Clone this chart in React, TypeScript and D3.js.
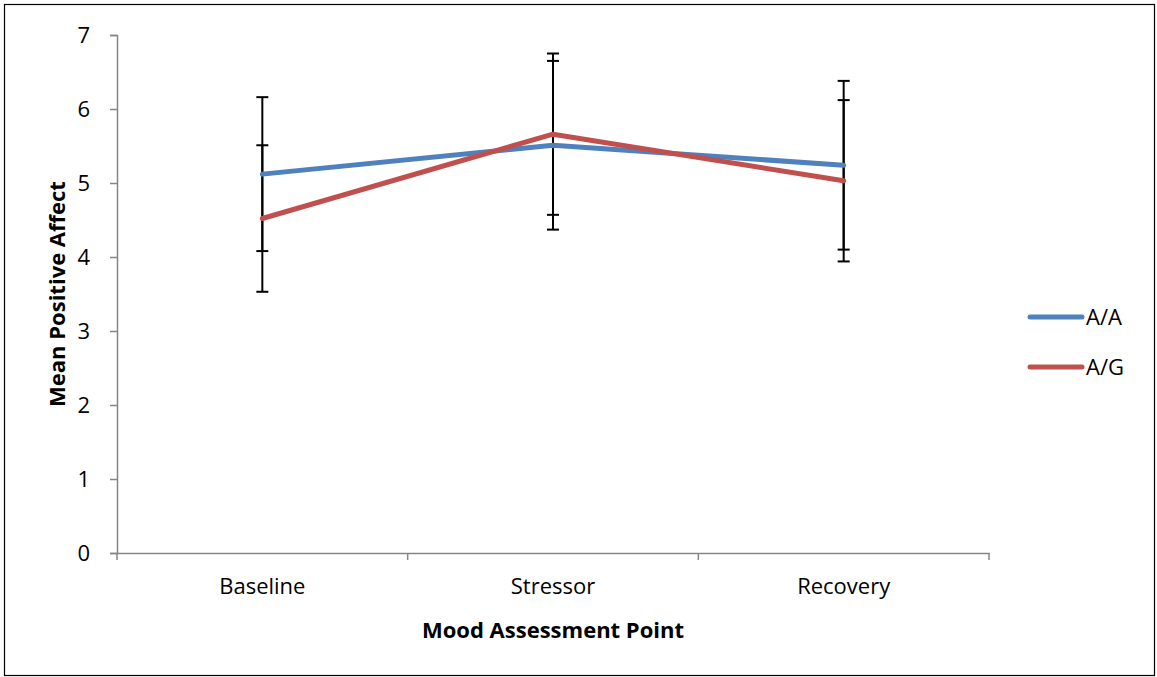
import React, { useEffect, useRef } from 'react';
import * as d3 from 'd3';

const categories = ['Baseline', 'Stressor', 'Recovery'];
const seriesNames = ['A/A', 'A/G'];
const aaMeans = [5.12, 5.51, 5.24];
const aaErrors = [1.04, 1.14, 1.14];
const agMeans = [4.52, 5.66, 5.03];
const agErrors = [0.99, 1.09, 1.09];
const yTicks = [0, 1, 2, 3, 4, 5, 6, 7];
const colors = ['#4F81BD', '#C0504D'];

export default function App() {
  const ref = useRef<SVGSVGElement>(null);

  useEffect(() => {
    const width = 1157;
    const height = 677;
    const svg = d3.select(ref.current).attr('width', width).attr('height', height);
    svg.selectAll('*').remove();
    const font = '"Open Sans", sans-serif';
    const fs = 22;

    svg.append('rect')
      .attr('x', 4.5).attr('y', 4.5)
      .attr('width', 1150).attr('height', 671)
      .attr('fill', 'white').attr('stroke', '#000').attr('stroke-width', 1.2);

    const x = d3.scaleBand().domain(categories).range([117, 989]);
    const y = d3.scaleLinear().domain([0, 7]).range([553, 35]);

    // y axis
    const yAxis = svg.append('g')
      .attr('transform', 'translate(117,0)')
      .call(d3.axisLeft(y).tickValues(yTicks).tickFormat(d3.format('d')).tickSize(7).tickPadding(20));
    yAxis.select('.domain').attr('stroke', '#868686').attr('stroke-width', 1.5);
    yAxis.selectAll('.tick line').attr('stroke', '#868686').attr('stroke-width', 1.5);
    yAxis.selectAll('.tick text')
      .attr('font-family', font).attr('font-size', fs).attr('fill', '#000');

    // x axis
    const xAxis = svg.append('g')
      .attr('transform', 'translate(0,553)')
      .call(d3.axisBottom(x).tickSize(0).tickPadding(25));
    xAxis.select('.domain').attr('stroke', '#868686').attr('stroke-width', 1.5);
    xAxis.selectAll('.tick text')
      .attr('font-family', font).attr('font-size', fs).attr('fill', '#000');
    const bounds = [...categories.map(c => x(c) as number), 989];
    xAxis.selectAll('.sep')
      .data(bounds)
      .enter()
      .append('line')
      .attr('x1', d => d).attr('x2', d => d)
      .attr('y1', 0).attr('y2', 7)
      .attr('stroke', '#868686').attr('stroke-width', 1.5);

    const cx = (c: string) => (x(c) as number) + x.bandwidth() / 2;
    const series = [
      { name: seriesNames[0], means: aaMeans, errors: aaErrors, color: colors[0] },
      { name: seriesNames[1], means: agMeans, errors: agErrors, color: colors[1] },
    ];

    // error bars
    series.forEach(s => {
      categories.forEach((c, i) => {
        const g = svg.append('g').attr('stroke', '#000').attr('stroke-width', 2);
        const top = y(s.means[i] + s.errors[i]);
        const bot = y(s.means[i] - s.errors[i]);
        g.append('line').attr('x1', cx(c)).attr('x2', cx(c)).attr('y1', top).attr('y2', bot);
        g.append('line').attr('x1', cx(c) - 6).attr('x2', cx(c) + 6).attr('y1', top).attr('y2', top);
        g.append('line').attr('x1', cx(c) - 6).attr('x2', cx(c) + 6).attr('y1', bot).attr('y2', bot);
      });
    });

    // lines
    const line = d3.line<number>()
      .x((d, i) => cx(categories[i]))
      .y(d => y(d));
    series.forEach(s => {
      svg.append('path')
        .datum(s.means)
        .attr('d', line)
        .attr('fill', 'none')
        .attr('stroke', s.color)
        .attr('stroke-width', 5)
        .attr('stroke-linecap', 'round')
        .attr('stroke-linejoin', 'round');
    });

    // legend
    series.forEach((s, i) => {
      const ly = 317 + i * 50;
      svg.append('line')
        .attr('x1', 1030).attr('x2', 1082).attr('y1', ly).attr('y2', ly)
        .attr('stroke', s.color).attr('stroke-width', 5).attr('stroke-linecap', 'round');
      svg.append('text')
        .attr('x', 1086).attr('y', ly + 8)
        .attr('font-family', font).attr('font-size', fs)
        .text(s.name);
    });

    // axis titles
    svg.append('text')
      .attr('x', 553).attr('y', 638)
      .attr('text-anchor', 'middle')
      .attr('font-family', font).attr('font-size', fs).attr('font-weight', 'bold')
      .text('Mood Assessment Point');
    svg.append('text')
      .attr('transform', 'translate(65,294) rotate(-90)')
      .attr('text-anchor', 'middle')
      .attr('font-family', font).attr('font-size', fs).attr('font-weight', 'bold')
      .text('Mean Positive Affect');
  }, []);

  return <svg ref={ref} style={{ position: 'absolute', left: 0, top: 0 }} />;
}
